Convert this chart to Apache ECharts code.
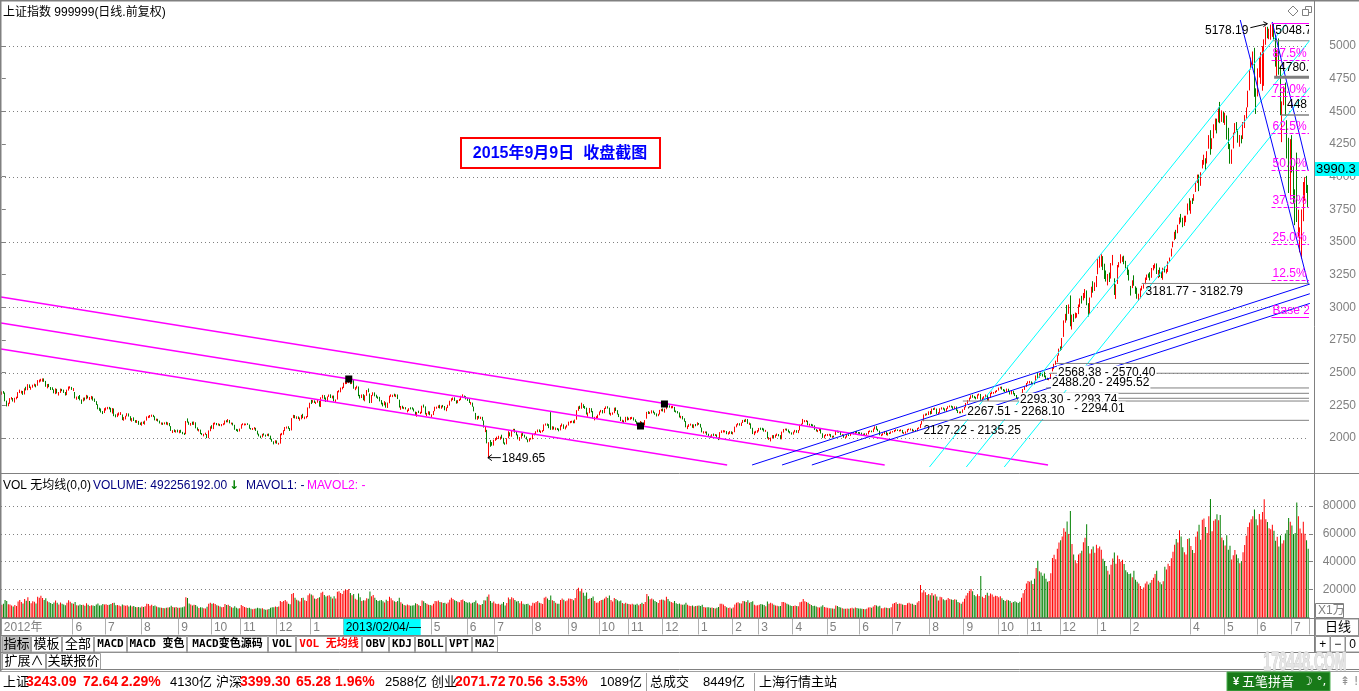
<!DOCTYPE html>
<html><head><meta charset="utf-8">
<script src="https://cdn.jsdelivr.net/npm/echarts@6/dist/echarts.min.js"></script>
<style>html,body{margin:0;padding:0;background:#fff;}#c{width:1359px;height:691px;}</style>
</head><body><div id="c"></div>
<script>
// ---- daily candles [open, close, low, high], 2012-03-26 .. 2015-07-15 ----
const ohlc2012 = [
[2344,2350,2331,2356],[2352,2348,2339,2359],[2345,2284,2281,2348],[2280,2253,2242,2286],[2249,2263,2243,2270],
[2268,2302,2262,2305],[2300,2306,2294,2313],[2301,2285,2279,2306],[2283,2306,2271,2308],[2302,2309,2296,2316],[2310,2350,2306,2351],[2352,2359,2344,2370],[2353,2357,2340,2362],[2355,2335,2330,2360],[2336,2378,2333,2380],[2380,2370,2364,2392],[2372,2406,2366,2412],[2402,2389,2383,2410],[2384,2388,2369,2393],[2390,2404,2385,2408],[2404,2406,2395,2416],[2404,2396,2388,2411],
[2402,2438,2400,2443],[2436,2440,2425,2447],[2438,2452,2432,2453],[2440,2451,2431,2456],[2450,2437,2430,2456],[2433,2394,2392,2437],[2388,2410,2380,2413],[2403,2394,2389,2414],[2382,2381,2367,2390],[2382,2374,2368,2388],[2368,2346,2342,2372],[2344,2378,2336,2380],[2374,2344,2341,2376],[2340,2348,2325,2352],[2350,2374,2345,2378],[2370,2367,2358,2376],[2365,2350,2345,2370],[2349,2333,2325,2352],[2330,2369,2328,2370],[2368,2390,2363,2394],[2386,2389,2378,2396],[2386,2373,2368,2391],
[2370,2373,2359,2382],[2350,2308,2303,2352],[2306,2308,2293,2317],[2312,2304,2299,2320],[2310,2293,2288,2329],[2292,2281,2261,2295],[2288,2305,2280,2309],[2302,2301,2287,2310],[2300,2327,2297,2330],[2321,2307,2303,2325],[2305,2306,2290,2314],[2308,2316,2296,2322],[2314,2292,2286,2318],[2292,2281,2276,2302],[2276,2260,2253,2282],[2254,2224,2220,2258],[2222,2216,2208,2232],[2218,2200,2195,2226],[2200,2195,2183,2206],[2194,2225,2191,2228],
[2223,2226,2210,2234],[2224,2234,2220,2238],[2232,2227,2219,2238],[2225,2201,2197,2231],[2199,2223,2187,2229],[2221,2170,2167,2226],[2169,2165,2158,2181],[2166,2184,2160,2188],[2180,2186,2172,2196],[2184,2185,2176,2198],[2177,2144,2137,2180],[2140,2156,2132,2160],[2150,2168,2142,2170],[2170,2182,2166,2190],[2182,2169,2164,2188],[2163,2137,2133,2167],[2134,2147,2125,2152],[2147,2134,2130,2158],[2131,2124,2117,2137],[2125,2133,2115,2137],[2128,2113,2101,2131],[2110,2103,2100,2118],
[2100,2122,2094,2124],[2120,2111,2108,2126],[2108,2132,2102,2133],[2135,2164,2133,2165],[2161,2163,2152,2170],[2162,2169,2155,2176],[2170,2174,2162,2179],[2172,2168,2160,2177],[2163,2139,2135,2166],[2137,2143,2131,2148],[2141,2131,2126,2147],[2129,2114,2111,2133],[2110,2115,2102,2119],[2114,2111,2100,2118],[2108,2114,2104,2120],[2115,2109,2102,2124],[2106,2116,2098,2120],[2113,2093,2090,2115],[2089,2056,2054,2091],[2054,2055,2038,2060],[2055,2048,2045,2066],[2046,2058,2041,2060],[2056,2047,2043,2064],
[2044,2059,2036,2060],[2060,2043,2040,2063],[2042,2037,2029,2047],[2036,2026,2023,2040],[2030,2128,2029,2130],[2133,2127,2118,2150],[2120,2104,2101,2125],[2101,2112,2094,2115],[2115,2109,2101,2125],[2107,2124,2100,2126],[2118,2076,2074,2120],[2074,2060,2057,2081],[2056,2065,2050,2069],[2060,2033,2030,2064],[2030,2026,2022,2038],[2022,2029,2013,2032],[2029,2030,2024,2041],[2027,2004,1999,2030],[2002,2056,1999,2058],[2058,2086,2052,2089],
[2092,2074,2071,2098],[2072,2115,2068,2116],[2113,2114,2103,2119],[2112,2104,2098,2115],[2101,2105,2095,2112],[2103,2101,2091,2108],[2097,2105,2090,2107],[2105,2106,2098,2113],[2108,2131,2103,2134],[2130,2128,2120,2136],[2124,2137,2120,2145],[2134,2116,2112,2138],[2112,2114,2104,2118],[2113,2100,2096,2117],[2097,2066,2063,2101],[2064,2059,2053,2070],[2059,2058,2047,2067],[2054,2069,2050,2072],
[2074,2104,2071,2105],[2102,2106,2098,2113],[2104,2107,2096,2111],[2105,2106,2098,2110],[2108,2105,2100,2113],[2101,2073,2071,2103],[2070,2069,2064,2077],[2066,2071,2061,2077],[2070,2078,2065,2083],[2075,2057,2054,2078],[2053,2030,2027,2056],[2028,2015,2012,2033],[2011,2010,1999,2018],[2008,2030,2005,2032],[2030,2024,2019,2036],[2021,2020,2010,2026],[2019,2030,2016,2032],[2031,2017,2013,2034],[2015,1991,1988,2018],[1990,1973,1971,1994],[1970,1960,1951,1975],[1961,1980,1959,1983],
[1978,1959,1956,1981],[1955,1960,1949,1963],[1958,2031,1957,2033],[2030,2032,2021,2039],[2030,2057,2025,2060],[2058,2082,2053,2084],[2080,2083,2072,2088],[2082,2074,2070,2090],[2072,2059,2054,2077],[2060,2150,2058,2152],[2155,2167,2152,2177],[2167,2162,2150,2175],[2159,2160,2146,2166],[2158,2153,2145,2165],[2152,2153,2132,2157],[2150,2175,2143,2177],[2176,2156,2152,2185],[2153,2159,2144,2164],[2158,2161,2150,2168],[2163,2233,2160,2234],[2232,2269,2227,2270]
];
const ohlc2013 = [
[2289,2276,2260,2292],[2278,2285,2270,2290],[2283,2276,2268,2288],[2271,2275,2260,2278],[2274,2284,2270,2294],[2281,2243,2240,2283],[2241,2311,2237,2312],[2313,2325,2302,2330],[2322,2309,2296,2328],[2303,2285,2276,2310],[2285,2317,2277,2318],[2320,2328,2315,2333],[2327,2315,2306,2334],[2312,2321,2303,2324],[2321,2283,2280,2325],[2281,2292,2276,2295],[2297,2358,2294,2359],[2357,2359,2349,2366],[2356,2382,2350,2386],[2382,2385,2372,2392],
[2387,2419,2383,2423],[2420,2428,2412,2434],[2423,2433,2413,2438],[2432,2434,2420,2445],[2430,2418,2412,2436],[2420,2432,2413,2434],[2444,2381,2377,2444],[2375,2382,2366,2389],[2384,2397,2378,2400],[2393,2326,2320,2394],[2322,2314,2302,2330],[2310,2326,2306,2333],[2328,2293,2289,2335],[2283,2325,2281,2327],[2326,2366,2323,2367],
[2368,2359,2350,2379],[2340,2273,2267,2341],[2271,2326,2268,2329],[2330,2347,2324,2350],[2345,2324,2319,2349],[2327,2318,2308,2331],[2314,2310,2300,2318],[2310,2286,2280,2315],[2282,2263,2257,2290],[2262,2256,2242,2270],[2257,2279,2250,2282],[2270,2241,2232,2273],[2240,2269,2230,2271],[2270,2323,2266,2324],[2320,2327,2315,2334],[2322,2328,2313,2331],[2330,2326,2318,2339],[2322,2327,2313,2334],[2325,2301,2298,2333],[2290,2236,2233,2293],[2233,2237,2216,2245],
[2239,2234,2225,2247],[2232,2234,2221,2238],[2230,2226,2219,2236],[2210,2212,2196,2217],[2212,2225,2206,2228],[2227,2226,2219,2235],[2228,2225,2218,2235],[2220,2206,2203,2226],[2198,2181,2176,2202],[2178,2197,2163,2199],[2200,2196,2191,2209],[2190,2194,2183,2201],[2193,2245,2190,2247],[2247,2243,2233,2256],[2241,2184,2180,2242],[2182,2187,2168,2192],[2188,2199,2180,2205],[2198,2177,2174,2203],
[2170,2175,2161,2181],[2177,2205,2175,2207],[2208,2236,2205,2239],[2233,2235,2224,2240],[2236,2247,2229,2250],[2245,2233,2226,2254],[2230,2246,2224,2248],[2246,2242,2234,2253],[2240,2217,2212,2245],[2216,2232,2205,2234],[2232,2251,2229,2254],[2250,2283,2248,2285],[2285,2299,2280,2304],[2298,2303,2290,2310],[2305,2288,2283,2311],[2283,2275,2263,2288],[2273,2288,2266,2290],[2289,2294,2283,2300],[2296,2321,2290,2323],[2323,2324,2310,2334],[2322,2315,2306,2325],[2313,2301,2295,2320],
[2300,2299,2284,2306],[2296,2272,2268,2298],[2268,2270,2255,2276],[2266,2243,2239,2271],[2238,2211,2204,2240],[2190,2149,2142,2192],[2147,2162,2139,2168],[2164,2156,2148,2170],[2155,2159,2145,2163],[2156,2144,2133,2162],[2130,2084,2080,2134],[2069,2073,2045,2084],[2059,1963,1959,2062],[1951,1959,1849.65,1968],[1957,1951,1933,1984],[1952,1950,1941,1969],[1951,1979,1942,1987],
[1983,1995,1978,2000],[1994,2007,1986,2010],[2003,2005,1992,2017],[2001,2006,1987,2010],[2009,2007,1998,2025],[2000,1959,1957,2001],[1960,1958,1948,1966],[1955,1996,1952,1998],[2001,2039,1998,2052],[2036,2017,2013,2043],[2015,2059,2010,2061],[2058,2065,2052,2070],[2063,2044,2040,2070],[2043,2023,2020,2050],[2022,1992,1990,2027],[1990,2004,1978,2007],[2004,2034,2001,2036],[2032,2019,2016,2038],[2018,2007,2003,2025],[2005,1991,1988,2011],[1986,1977,1967,1990],[1977,1991,1972,1996],[1990,1994,1987,2001],
[1993,2029,1990,2032],[2026,2029,2020,2036],[2029,2050,2023,2052],[2050,2060,2044,2065],[2058,2048,2045,2066],[2046,2052,2038,2057],[2050,2052,2044,2060],[2055,2102,2053,2104],[2101,2106,2095,2111],[2104,2101,2093,2111],[2099,2082,2075,2106],[2083,2069,2062,2198],[2066,2086,2063,2090],[2084,2073,2065,2088],[2071,2072,2060,2080],[2072,2067,2061,2077],[2065,2057,2051,2072],[2060,2096,2058,2098],[2097,2103,2088,2111],[2101,2075,2070,2104],[2074,2085,2066,2089],[2085,2098,2080,2101],
[2100,2123,2095,2125],[2122,2123,2113,2130],[2124,2127,2117,2132],[2125,2122,2113,2133],[2120,2139,2113,2141],[2141,2212,2140,2213],[2213,2237,2208,2242],[2235,2229,2222,2247],[2228,2255,2224,2270],[2251,2236,2230,2258],[2238,2231,2223,2245],[2228,2185,2180,2232],[2183,2192,2163,2195],[2195,2221,2190,2230],[2220,2207,2197,2228],[2203,2155,2151,2206],[2154,2155,2135,2162],[2152,2160,2147,2167],[2159,2175,2153,2179],
[2177,2199,2174,2203],[2200,2211,2196,2215],[2210,2193,2188,2214],[2192,2228,2190,2230],[2228,2238,2222,2242],[2236,2233,2225,2243],[2230,2183,2180,2232],[2182,2188,2171,2193],[2187,2193,2178,2196],[2195,2229,2190,2232],[2228,2211,2206,2234],[2209,2183,2180,2213],[2181,2164,2160,2185],[2160,2133,2130,2163],[2130,2133,2122,2140],[2132,2128,2115,2135],[2128,2160,2122,2162],[2158,2141,2135,2163],
[2143,2149,2137,2155],[2148,2150,2140,2160],[2150,2157,2145,2162],[2155,2140,2134,2158],[2138,2129,2122,2143],[2125,2106,2100,2128],[2105,2109,2096,2113],[2108,2126,2103,2130],[2120,2087,2083,2124],[2085,2100,2078,2104],[2100,2135,2096,2137],[2150,2197,2148,2200],[2195,2193,2184,2205],[2192,2194,2184,2200],[2195,2206,2188,2212],[2204,2196,2190,2210],[2193,2184,2178,2197],[2182,2174,2165,2188],[2175,2181,2167,2185],[2182,2212,2180,2215],[2210,2220,2205,2223],
[2222,2207,2203,2226],[2205,2222,2194,2224],[2224,2251,2220,2260],[2250,2245,2236,2258],[2244,2238,2232,2250],[2237,2238,2227,2244],[2237,2238,2228,2246],[2236,2204,2200,2238],[2203,2202,2195,2210],[2200,2196,2188,2206],[2193,2160,2157,2196],[2158,2162,2150,2170],[2163,2148,2142,2168],[2146,2128,2125,2151],[2126,2085,2082,2130],[2083,2090,2068,2095],[2091,2102,2085,2106],[2102,2104,2095,2110],[2102,2082,2078,2105],[2081,2102,2075,2104],[2100,2098,2090,2107],[2099,2116,2095,2120]
];
const ohlc2014 = [
[2112,2109,2101,2115],[2106,2084,2080,2108],[2078,2047,2043,2080],[2045,2046,2034,2052],[2044,2045,2036,2050],[2044,2028,2024,2050],[2027,2013,2008,2033],[2011,2010,2001,2018],[2006,2027,2003,2029],[2026,2023,2016,2034],[2022,2024,2015,2030],[2024,2004,2001,2027],[2000,1991,1984,2004],[1992,2043,1990,2045],[2043,2052,2038,2058],[2050,2051,2042,2060],[2050,2055,2043,2058],[2050,2033,2029,2053],[2031,2038,2026,2044],[2037,2049,2032,2053],[2048,2033,2030,2051],
[2032,2044,2027,2047],[2046,2086,2044,2087],[2086,2103,2082,2105],[2101,2110,2097,2114],[2108,2100,2095,2113],[2099,2116,2092,2118],[2118,2136,2115,2138],[2133,2130,2122,2140],[2128,2143,2123,2146],[2142,2112,2108,2145],[2110,2114,2100,2118],[2108,2076,2071,2112],[2073,2035,2030,2078],[2033,2047,2022,2050],[2045,2047,2036,2055],[2046,2056,2040,2060],
[2055,2075,2050,2077],[2073,2072,2062,2079],[2073,2071,2060,2078],[2070,2053,2049,2073],[2052,2058,2047,2062],[2045,1999,1996,2048],[1998,2001,1986,2006],[1995,1998,1974,2003],[2000,2019,1996,2022],[2016,2004,2000,2022],[2006,2024,2002,2026],[2023,2025,2016,2034],[2024,2021,2013,2030],[2018,1993,1990,2022],[1993,2047,1990,2049],[2046,2066,2042,2069],[2065,2067,2059,2072],[2066,2063,2055,2072],[2061,2046,2043,2065],[2045,2042,2035,2052],[2040,2033,2026,2043],
[2032,2047,2026,2049],[2046,2059,2043,2062],[2057,2044,2040,2060],[2042,2059,2037,2061],[2060,2100,2058,2102],[2098,2105,2093,2110],[2106,2134,2104,2146],[2128,2131,2121,2137],[2130,2131,2122,2137],[2128,2101,2097,2132],[2100,2106,2094,2109],[2105,2099,2092,2108],[2099,2097,2088,2104],[2094,2066,2062,2097],[2064,2054,2050,2068],[2053,2059,2045,2062],[2060,2071,2054,2073],[2070,2037,2034,2073],[2033,2004,2001,2036],[2002,2020,1998,2022],[2019,2026,2014,2030],
[2024,2027,2015,2031],[2026,2028,2018,2032],[2027,2010,2006,2030],[2008,2015,2001,2017],[2014,2011,2004,2018],[2025,2052,2022,2054],[2052,2050,2042,2056],[2050,2047,2041,2054],[2045,2025,2022,2048],[2024,2026,2017,2030],[2025,2005,2002,2027],[2004,2008,1997,2011],[2008,2024,2004,2026],[2023,2021,2015,2028],[2020,2035,2016,2036],[2036,2041,2030,2044],[2040,2034,2028,2045],[2033,2051,2030,2053],[2050,2040,2036,2054],[2041,2039,2032,2046],
[2040,2038,2031,2045],[2038,2024,2020,2041],[2024,2030,2018,2033],[2031,2029,2022,2036],[2028,2033,2021,2036],[2032,2052,2028,2054],[2052,2054,2045,2058],[2053,2050,2044,2057],[2048,2070,2045,2072],[2070,2087,2066,2089],[2086,2066,2063,2091],[2065,2055,2051,2070],[2053,2024,2021,2056],[2022,2026,2014,2029],[2026,2034,2020,2037],[2034,2050,2030,2052],[2049,2025,2022,2052],[2024,2037,2018,2039],[2037,2036,2030,2042],[2036,2048,2033,2050],
[2048,2050,2042,2053],[2050,2059,2045,2061],[2058,2064,2052,2067],[2063,2059,2054,2066],[2058,2060,2050,2062],[2058,2060,2052,2066],[2058,2040,2036,2062],[2038,2039,2031,2045],[2038,2046,2033,2050],[2047,2066,2044,2068],[2066,2068,2060,2072],[2065,2067,2058,2073],[2066,2055,2050,2070],[2054,2059,2048,2062],[2058,2054,2049,2062],[2054,2075,2052,2077],[2075,2078,2070,2082],[2078,2106,2076,2108],[2106,2126,2103,2130],[2130,2178,2128,2180],[2178,2183,2170,2187],[2183,2182,2174,2188],[2183,2202,2176,2204],
[2200,2185,2180,2207],[2186,2223,2184,2225],[2224,2223,2214,2228],[2222,2224,2216,2233],[2222,2188,2184,2225],[2186,2194,2180,2198],[2195,2225,2192,2227],[2226,2229,2218,2235],[2228,2223,2217,2233],[2220,2207,2203,2226],[2206,2226,2201,2228],[2227,2240,2223,2243],[2240,2245,2235,2249],[2244,2240,2233,2248],[2238,2229,2222,2243],[2227,2240,2222,2242],[2238,2211,2208,2241],[2210,2195,2191,2216],[2194,2197,2188,2202],[2196,2195,2189,2203],[2196,2217,2193,2219],
[2218,2236,2215,2237],[2237,2266,2234,2268],[2267,2288,2262,2290],[2287,2306,2282,2309],[2306,2326,2300,2327],[2327,2319,2308,2331],[2317,2312,2304,2322],[2310,2305,2296,2315],[2303,2331,2300,2334],[2332,2334,2325,2340],[2332,2296,2292,2337],[2295,2307,2284,2310],[2308,2316,2300,2320],[2318,2329,2310,2333],[2326,2290,2286,2330],[2288,2309,2285,2311],[2310,2344,2308,2346],[2343,2345,2336,2355],[2345,2347,2338,2352],[2348,2358,2343,2361],[2358,2364,2352,2367],
[2366,2382,2363,2386],[2383,2389,2378,2392],[2387,2375,2370,2393],[2372,2366,2358,2375],[2365,2359,2352,2370],[2358,2374,2352,2378],[2372,2357,2352,2377],[2355,2341,2333,2360],[2340,2357,2334,2360],[2357,2339,2334,2361],[2338,2326,2321,2344],[2325,2302,2298,2329],[2304,2302,2294,2310],[2300,2290,2282,2304],[2290,2337,2288,2339],[2338,2373,2335,2375],[2373,2391,2368,2394],[2392,2420,2390,2421],
[2423,2430,2416,2434],[2428,2430,2418,2437],[2430,2420,2412,2433],[2419,2420,2405,2424],[2422,2418,2410,2431],[2440,2474,2436,2478],[2483,2469,2455,2499],[2465,2494,2461,2496],[2492,2485,2476,2500],[2483,2478,2470,2492],[2490,2474,2465,2508],[2470,2457,2450,2478],[2456,2451,2444,2461],[2450,2452,2442,2458],[2455,2487,2452,2490],[2523,2532,2510,2536],[2530,2567,2527,2568],[2568,2580,2560,2592],[2584,2630,2580,2633],[2635,2683,2630,2684],
[2695,2680,2666,2701],[2678,2763,2675,2765],[2777,2899,2774,2900],[2910,2937,2882,2950],[2955,2938,2900,3018],[2960,3020,2950,3022],[3020,2856,2855,3091],[2830,2940,2830,2944],[2930,2926,2888,2950],[2925,2938,2915,2960],[2936,2953,2921,2956],[2952,3021,2948,3022],[3024,3061,3002,3068],[3064,3058,3029,3088],[3056,3108,3053,3110],[3120,3128,3070,3140],[3115,3032,3016,3129],[3004,2968,2930,3032],[2965,3072,2950,3075],[3077,3157,3075,3158],[3170,3168,3112,3200],[3163,3166,3125,3191],[3172,3235,3155,3240]
];
const ohlc2015 = [
[3258,3351,3253,3369],[3331,3352,3303,3394],[3336,3373,3311,3406],[3371,3294,3285,3392],[3294,3285,3217,3334],[3258,3229,3197,3282],[3223,3235,3168,3255],[3245,3222,3194,3266],[3222,3336,3220,3339],[3343,3376,3321,3401],[3186,3116,3095,3222],[3076,3173,3064,3175],[3179,3323,3179,3324],[3327,3343,3306,3346],[3349,3351,3337,3406],[3360,3383,3348,3389],[3389,3352,3330,3395],[3342,3305,3298,3356],[3299,3262,3247,3320],[3254,3210,3205,3288],
[3141,3128,3090,3164],[3156,3204,3147,3207],[3227,3175,3165,3245],[3143,3136,3103,3161],[3138,3076,3066,3150],[3067,3095,3049,3104],[3095,3142,3069,3145],[3138,3157,3129,3165],[3154,3173,3143,3177],[3178,3203,3177,3228],[3210,3247,3209,3251],[3247,3246,3227,3259],[3260,3229,3206,3269],[3226,3298,3226,3301],[3302,3310,3283,3324],
[3333,3336,3298,3336],[3324,3263,3255,3336],[3262,3280,3224,3286],[3285,3248,3232,3305],[3251,3241,3224,3272],[3228,3302,3211,3303],[3301,3286,3267,3311],[3276,3290,3259,3294],[3295,3349,3271,3352],[3348,3372,3347,3381],[3391,3449,3389,3450],[3459,3503,3459,3504],[3515,3578,3514,3578],[3586,3582,3524,3593],[3589,3617,3567,3632],[3641,3688,3636,3688],[3695,3691,3650,3715],[3680,3661,3613,3686],[3644,3682,3623,3701],[3680,3691,3651,3701],[3710,3786,3710,3795],[3793,3748,3741,3835],
[3748,3810,3716,3817],[3828,3825,3791,3835],[3829,3863,3815,3866],[3899,3961,3883,3961],[3966,3995,3951,4016],[4001,3957,3889,4016],[3949,4034,3930,4034],[4064,4121,4063,4128],[4124,4135,4091,4168],[4135,4084,4050,4141],[4102,4194,4101,4195],[4215,4287,4214,4318],[4307,4217,4168,4356],[4211,4293,4211,4294],[4304,4398,4294,4401],[4407,4414,4355,4445],[4410,4394,4331,4444],[4431,4527,4416,4529],[4539,4476,4409,4572],[4466,4476,4419,4507],[4483,4442,4412,4499],
[4441,4480,4396,4489],[4467,4298,4284,4468],[4318,4229,4211,4374],[4225,4112,4099,4250],[4119,4206,4098,4208],[4231,4333,4216,4337],[4345,4401,4333,4410],[4403,4375,4353,4418],[4358,4283,4260,4364],[4271,4308,4229,4319],[4294,4284,4255,4316],[4293,4417,4288,4418],[4420,4446,4372,4471],[4446,4529,4444,4530],[4531,4658,4531,4658],[4677,4813,4660,4814],[4822,4910,4820,4911],[4926,4941,4850,4958],[4943,4620,4611,4986],[4633,4612,4480,4676],
[4633,4828,4614,4829],[4844,4910,4759,4911],[4905,4910,4710,4952],[4920,4947,4658,4999],[4935,5023,4695,5051],[5046,5131,5009,5147],[5146,5113,5059,5147],[5102,5106,5052,5132],[5096,5121,5048,5164],[5147,5166,5070,5178.19],[5175,5062,5048,5176],[5042,4887,4842,5082],[4893,4967,4767,4968],[5004,4786,4780,5058],[4808,4478,4470,4849],[4471,4576,4264,4576],[4604,4691,4547,4691],[4690,4527,4467,4720],[4399,4192,4139,4432],[4289,4053,3875,4297],[4006,4277,3847,4287],
[4214,4053,4032,4318],[4058,3912,3795,4080],[3793,3686,3629,3903],[4132,3775,3653,4184],[3726,3727,3541,3747],[3433,3507,3421,3612],[3432,3709,3373,3749],[3707,3877,3659,3959],[3827,3970,3816,3996],[3933,3924,3875,4006],[3910,3805,3765,3937]
];
// ---- daily volume (x1万) ----
const vol2012 = [9200,9800,12500,11800,9500,
9300,8600,7800,8900,8200,11500,12600,11200,10100,13200,12000,14500,11800,10200,11600,11300,10100,
14800,14200,15600,13900,12500,13800,11600,10900,10400,9600,10800,12100,10500,9300,10800,9900,9400,8800,10600,12400,11300,10200,
9900,11200,8800,8600,9300,8900,9100,8400,10200,9200,8300,8800,8600,8200,9300,10100,8600,8800,9700,9400,
9500,8900,9100,9600,10400,10600,8800,8900,8600,8100,9300,8700,8400,8800,7900,8600,7800,8200,7600,7300,7600,7200,
7800,7500,8100,9800,9600,8500,9100,8300,8600,7900,7400,7200,6900,6800,6700,6900,7100,7300,8400,7600,7200,7600,7000,
6900,7200,7400,7800,14600,13900,10100,9400,8600,9200,9000,7800,6800,7400,7100,6600,6400,7700,9900,10500,
9800,10200,9600,8800,8500,7900,7300,7600,9600,8900,9200,8200,7400,7000,8100,6900,6500,6600,
8900,8200,7500,7200,6800,6900,6300,6000,6200,6400,6900,6700,6400,6600,5900,5600,5800,6100,7000,7300,7400,7800,
7500,7900,11800,11200,11900,12600,11400,9800,9500,16800,17600,14200,12800,12200,11500,13900,14100,12400,11800,15900,17200];
const vol2013 = [16500,15800,13600,13200,13900,14500,17800,18400,16200,15100,15600,15900,14800,13700,15200,13600,18400,18900,17500,16800,
19200,20100,19800,20500,17600,15900,16800,13500,12800,17200,14600,11900,12400,12100,13800,
13500,18600,15200,16100,14200,12600,11800,12200,12600,11600,10800,12800,11900,14900,13800,12400,11600,11200,11800,14100,10900,
9800,8900,8600,9400,8800,8400,8600,8800,10200,9600,8700,8300,12200,11600,10400,9800,9100,8900,
8600,9800,11900,11600,12200,11200,10900,10400,10600,9900,10800,12800,14100,13200,12400,11900,11300,11000,12600,12900,11800,11200,
10500,10900,10100,10600,11200,12100,10200,9300,9000,9600,12400,12200,14800,16500,11900,10600,11400,
10100,9600,9800,9200,9900,11200,8600,10400,14300,13100,14500,13800,12600,11400,11900,10300,11600,9900,9300,9600,9900,8800,8500,
10600,10300,11200,11800,10600,10200,9600,14200,14900,13600,12600,15800,12400,11900,10600,9900,9800,12500,13600,12800,11600,12200,
13600,13400,13200,12400,13900,20100,21400,18900,20600,17800,15600,17900,13200,13600,13900,15100,11900,10600,10800,
11900,12600,12800,13600,14900,13900,15800,12600,11400,13900,13300,12400,11600,12100,10400,9900,10600,9800,
9600,9400,9900,9300,9200,9800,8700,9600,10600,9600,11200,16800,15200,13100,13600,12900,11800,11200,10400,12600,12900,
12800,12100,14800,13200,11600,11200,10600,11900,10200,9600,10100,9300,9200,9400,10600,9100,8400,8300,8600,7900,8200,8400];
const vol2014 = [8600,8200,9100,7600,7200,7400,7300,6900,7200,6800,6500,6900,7500,9800,9900,9400,8200,7400,6800,7100,6500,
7100,9400,10600,10900,10200,10100,11900,11600,11200,12400,10600,11100,11600,9200,8600,8700,
9200,9600,9400,8900,8100,11400,9900,10600,10100,9200,8600,8500,8100,8300,11200,11200,10600,9800,9300,8600,8200,
8300,8600,8200,8100,10900,11300,13200,11600,11200,10600,9600,8900,8200,8400,7900,7400,7100,7900,8800,7600,7200,
6900,6700,6600,6500,6200,8600,8200,7600,7100,6600,6300,6200,6400,6200,6600,6900,6500,7100,6800,6500,
6400,6200,6100,5900,6200,7100,7400,7000,7900,8900,8600,7900,8400,6700,6600,7200,6900,6800,6700,7300,
9800,10400,10900,9600,10100,9800,9400,9000,8900,10300,10600,9900,9800,9200,8900,10800,11900,23300,17900,19600,18100,16200,16800,
15900,17600,15800,16600,15100,12200,14900,14600,13100,12400,12800,13900,13200,12900,12600,13000,12800,11100,10600,9900,11300,
13500,15800,17600,19200,20400,18800,16100,15200,16600,15400,29800,14900,13900,16100,17800,15600,17200,16400,14800,15600,15400,
14600,15200,13800,12600,11900,12800,12400,11800,10600,11200,11600,10900,10400,11300,14100,17400,19800,24300,
26100,25600,26600,24100,27800,35400,40600,33100,32300,29900,31600,27700,25600,26200,31800,42600,44900,41700,49200,53800,
55300,58100,63900,61500,68900,59800,76400,52600,45200,41100,38900,45200,46100,47800,53900,57100,66800,51200,45800,48900,50900,46500,52200];
const vol2015 = [49700,50900,48500,42200,40500,36900,33500,30800,37800,42300,46600,38500,44500,41900,40000,41400,38300,33800,32500,31200,
31500,28800,33500,27100,25600,24400,22500,20300,21500,24300,25800,23600,24900,26900,28500,
31200,33600,26400,25300,23900,25900,36300,34400,38500,37000,42500,47100,52200,56300,53800,62600,58100,50400,46700,45200,56200,56800,
51200,48400,46300,57900,61600,66400,55700,70100,70900,64800,60500,72500,85000,61800,69300,70500,74000,69800,73500,57300,55400,
51600,58900,48600,51500,41600,44600,48300,45100,42400,38800,40300,46800,52000,58600,64800,68100,70500,72600,77400,70400,
66100,74200,70300,75600,84700,70400,68400,64000,63300,66400,62100,55100,57900,50900,58800,53100,55300,60300,62800,71400,68600,
65900,59900,60600,82400,72600,63800,60400,68700,60100,55400,49226];

// ---- month labels of the date axis: [candle index, text] ----
const monthTicks = [[0,'2012年'],[44,'6'],[64,'7'],[86,'8'],[109,'9'],[129,'10'],[147,'11'],[169,'12'],
[190,'1'],[210,'2'],[225,'3'],[246,'4'],[264,'5'],[286,'6'],[303,'7'],[326,'8'],[348,'9'],[367,'10'],[385,'11'],[406,'12'],
[428,'1'],[449,'2'],[465,'3'],[486,'4'],[507,'5'],[527,'6'],[547,'7'],[570,'8'],[591,'9'],[612,'10'],[630,'11'],[650,'12'],
[673,'1'],[693,'2'],[730,'4'],[751,'5'],[771,'6'],[792,'7']];
const cursorIndex = 211;            // 2013/02/04
const cursorLabel = '2013/02/04/—';
const cursorPrice = 3990.3;
const priceGridLevels = [2000,2500,3000,3500,4000,4500,5000];
const volGridLevels = [20000,40000,60000,80000];

// ---- drawn study lines, [idx1, price1, idx2, price2] ----
const magentaLines = [[-0.5,3079,642.3,1793.4],[-0.5,2880,542.0,1793.4],[-0.5,2681,445.3,1793.4]];
const blueUpLines = [[460.6,1793.4,803,3178],[479.0,1793.4,803,3104],[497.3,1793.4,803,3030]];
const cyanLines = [[569.5,1778,789.0,5176],[592.1,1778,803,5043],[615.4,1778,803,4682]];
const blueDownLines = [[760.3,5199,801.9,3186],[779.9,5184,801.9,4051]];
const pivotSquares = [[213,2451],[406.8,2260],[392.1,2092]];
// golden-section box
const fibHigh = 5178.19, fibBase = 2925, fibStart = 779.5;
const fibPcts = [0,12.5,25,37.5,50,62.5,75,87.5,100];
// gap lines [start idx, price, width] and gap texts [idx, price, text, opaque]
const gapLines = [[780.5,5040,1],[781.1,4760,3],[785.4,4472,1.5],[699.8,3182.79,1],[647.2,2570.40,1],[643.5,2495.52,1],
[641.1,2383,1],[625,2342,1],[625,2304,1],[590,2283,1],[564.6,2135.25,1]];
const gapTexts = [[781.8,5114.8,'5048.7',0],[784.1,4831.6,'4780.',0],[789.0,4548.4,'448',0],[702.2,3117.3,'3181.77 - 3182.79',0],
[647.8,2501.3,'2568.38 - 2570.40',1],[644.1,2420.9,'2488.20 - 2495.52',1],[624.5,2290.8,'2293.30 - 2293.74',1],
[657.6,2225.8,'- 2294.01',1],[592.1,2199.0,'2267.51 - 2268.10',1],[565.8,2057.4,'2127.22 - 2135.25',0]];

// ---------------- build ----------------
const UP = '#ff0000', DOWN = '#008000';
const F = '"Liberation Sans","Noto Sans CJK SC",sans-serif';
const ohlc = [].concat(ohlc2012, ohlc2013, ohlc2014, ohlc2015);
const vols = [].concat(vol2012, vol2013, vol2014, vol2015);
const N = ohlc.length;
const cats = ohlc.map((_, i) => String(i));
const tickMap = {}; monthTicks.forEach(t => tickMap[t[0]] = t[1]);
const isTick = (i) => tickMap[i] !== undefined;

const chart = echarts.init(document.getElementById('c'), null, {renderer: 'canvas'});

function custom(items, render, z) {
  return {type: 'custom', xAxisIndex: 2, yAxisIndex: 0, clip: true, silent: true, z: z || 4,
    data: items.map(d => [d[0], d[1]]), encode: {x: 0, y: 1},
    renderItem: (params, api) => render(items[params.dataIndex], api)};
}
function txt(x, y, t, font, fill, align, va, bg) {
  const s = {text: t, font: font, fill: fill, align: align || 'left', verticalAlign: va || 'middle',
    textAlign: align || 'left', textVerticalAlign: va || 'middle'};
  if (bg) { s.backgroundColor = bg; s.padding = [1, 1]; }
  return {type: 'text', x: x, y: y, style: s};
}
function lineSeries(arr, color, width) {
  return arr.map(a => ({type: 'line', xAxisIndex: 2, yAxisIndex: 0, data: [[a[0], a[1]], [a[2], a[3]]],
    symbol: 'none', showSymbol: false, silent: true, clip: true, z: 3,
    lineStyle: {color: color, width: width}}));
}

// extremes from data
let hiI = 0, loI = 0;
ohlc.forEach((d, i) => { if (d[3] > ohlc[hiI][3]) hiI = i; if (d[2] < ohlc[loI][2]) loI = i; });
const extremes = [[hiI, ohlc[hiI][3], 'hi'], [loI, ohlc[loI][2], 'lo']];

const fibItems = fibPcts.map(p => [fibStart, fibBase + (fibHigh - fibBase) * p / 100, p]);

const volData = vols.map((v, i) => ({value: v, itemStyle: {color: ohlc[i][1] >= ohlc[i][0] ? UP : DOWN}}));

const option = {
  animation: false,
  backgroundColor: '#ffffff',
  grid: [
    {left: 1, top: 13.3333, width: 1313, height: 457.3333},
    {left: 1, top: 478, width: 1313, height: 139.5}
  ],
  xAxis: [
    {type: 'category', gridIndex: 0, data: cats, boundaryGap: true, show: false},
    {type: 'category', gridIndex: 1, data: cats, boundaryGap: true,
      axisLine: {show: true, lineStyle: {color: '#808080'}},
      axisTick: {show: true, interval: (i) => isTick(i), length: 17, lineStyle: {color: '#b0b0b0'}},
      axisLabel: {interval: (i) => isTick(i), formatter: (v, i) => tickMap[i] || '', color: '#808080',
        fontSize: 12, fontFamily: F, align: 'left', margin: 4, padding: [0, 0, 0, 2]},
      splitLine: {show: false}},
    {type: 'value', gridIndex: 0, min: -0.5, max: N - 0.5, show: false}
  ],
  yAxis: [
    {type: 'value', gridIndex: 0, position: 'right', min: 1750, max: 5250, interval: 250, scale: true,
      axisLine: {show: false}, splitLine: {show: false},
      axisTick: {show: true, length: 4, lineStyle: {color: '#808080'}},
      axisLabel: {color: '#808080', fontSize: 12, fontFamily: F, align: 'right', margin: 47,
        formatter: (v) => String(Math.round(v)), showMinLabel: false, showMaxLabel: false}},
    {type: 'value', gridIndex: 1, position: 'right', min: 0, max: 100000, interval: 20000,
      axisLine: {show: false}, splitLine: {show: false},
      axisTick: {show: true, length: 4, lineStyle: {color: '#808080'}},
      axisLabel: {color: '#808080', fontSize: 12, fontFamily: F, align: 'right', margin: 47,
        formatter: (v) => String(Math.round(v)), showMinLabel: false, showMaxLabel: false}}
  ],
  series: [
    custom(priceGridLevels.map(v => [-0.5, v]), (d, api) => {
      const a = api.coord([-0.5, d[1]]), b = api.coord([N - 0.5, d[1]]);
      return {type: 'line', shape: {x1: a[0], y1: Math.round(a[1]) + 0.5, x2: b[0], y2: Math.round(a[1]) + 0.5},
        style: {stroke: '#808080', lineWidth: 1, lineDash: [1, 3]}};
    }, 1),
    {type: 'candlestick', xAxisIndex: 0, yAxisIndex: 0, data: ohlc, large: false, barWidth: 0.5, z: 2,
      silent: true, itemStyle: {color: UP, color0: DOWN, borderColor: UP, borderColor0: DOWN, borderWidth: 1}},
    {type: 'bar', xAxisIndex: 1, yAxisIndex: 1, data: volData, barWidth: 1, silent: true, z: 2,
      markLine: {silent: true, symbol: ['none', 'none'], label: {show: false}, z: 1,
        lineStyle: {color: '#808080', type: [1, 3], width: 1},
        data: volGridLevels.map(v => ({yAxis: v}))}},
    ...lineSeries(magentaLines, '#ff00ff', 1.3),
    ...lineSeries(blueUpLines, '#0000ff', 1),
    ...lineSeries(cyanLines, '#00ffff', 1),
    ...lineSeries(blueDownLines, '#0000ff', 1),
    // golden section box
    custom(fibItems, (d, api) => {
      const a = api.coord([d[0], d[1]]), b = api.coord([N + 2, d[1]]);
      const y = Math.round(a[1]) + 0.5;
      const solid = d[2] === 0 || d[2] === 100;
      const ch = [{type: 'line', shape: {x1: a[0], y1: y, x2: b[0], y2: y},
        style: {stroke: '#ff00ff', lineWidth: 1, lineDash: solid ? null : [4, 2]}}];
      if (d[2] !== 100) {
        const lab = (d[2] === 0 ? 'Base' : d[2].toFixed(1) + '%') + ' ' + d[1].toFixed(2);
        ch.push(txt(a[0] + 1, y - 1, lab, '12px ' + F, '#ff00ff', 'left', 'bottom'));
      }
      return {type: 'group', children: ch};
    }, 5),
    // gap lines
    custom(gapLines, (d, api) => {
      const a = api.coord([d[0], d[1]]), b = api.coord([N + 2, d[1]]);
      return {type: 'line', shape: {x1: a[0], y1: a[1], x2: b[0], y2: a[1]}, style: {stroke: '#808080', lineWidth: d[2]}};
    }, 5),
    custom(gapTexts, (d, api) => {
      const a = api.coord([d[0], d[1]]);
      return txt(a[0], a[1], d[2], '12px ' + F, '#000', 'left', 'middle', d[3] ? '#ffffff' : null);
    }, 6),
    // pivot squares
    custom(pivotSquares, (d, api) => {
      const a = api.coord([d[0], d[1]]);
      return {type: 'rect', shape: {x: a[0] - 3.5, y: a[1] - 3.5, width: 7, height: 7}, style: {fill: '#000'}};
    }, 6),
    // high / low labels
    custom(extremes, (d, api) => {
      const a = api.coord([d[0], d[1]]);
      const lab = d[1].toFixed(2);
      if (d[2] === 'hi') {
        return {type: 'group', children: [
          {type: 'polyline', shape: {points: [[a[0] - 22, a[1] + 5], [a[0] - 5, a[1] + 1]]}, style: {stroke: '#000', lineWidth: 1, fill: null}},
          {type: 'polyline', shape: {points: [[a[0] - 9, a[1] - 1], [a[0] - 5, a[1] + 1], [a[0] - 9, a[1] + 4]]}, style: {stroke: '#000', lineWidth: 1, fill: null}},
          txt(a[0] - 24, a[1] + 7.5, lab, '12px ' + F, '#000', 'right', 'middle')]};
      }
      return {type: 'group', children: [
        {type: 'polyline', shape: {points: [[a[0] - 1, a[1]], [a[0] + 12, a[1]]]}, style: {stroke: '#000', lineWidth: 1, fill: null}},
        {type: 'polyline', shape: {points: [[a[0] + 3, a[1] - 3], [a[0] - 1, a[1]], [a[0] + 3, a[1] + 3]]}, style: {stroke: '#000', lineWidth: 1, fill: null}},
        txt(a[0] + 13, a[1] + 1.5, lab, '12px ' + F, '#000', 'left', 'middle')]};
    }, 6)
  ]
};
chart.setOption(option);

// ---------------- interface chrome ----------------
const G = [];
const add = (e) => { e.silent = true; e.z = 100; G.push(e); };
function rect(x, y, w, h, fill, stroke, lw) { add({type: 'rect', shape: {x, y, width: w, height: h}, style: {fill: fill || 'none', stroke: stroke || null, lineWidth: lw || 1}}); }
function ln(x1, y1, x2, y2, c, lw) { add({type: 'line', shape: {x1, y1, x2, y2}, style: {stroke: c || '#808080', lineWidth: lw || 1}}); }
function tx(x, y, t, font, fill, align, extra) { const e = txt(x, y, t, font, fill, align || 'left', 'middle'); if (extra) Object.assign(e, extra); add(e); }

// frame
rect(0, 0, 1359, 1.5, '#808080');
rect(0, 0, 1.5, 672, '#808080');
ln(1314.5, 0, 1314.5, 652.5);
ln(0, 473.5, 1359, 473.5);
ln(0, 618.5, 1359, 618.5);
ln(0, 635.5, 1359, 635.5);
ln(0, 652.5, 1359, 652.5);
ln(0, 669.5, 1359, 669.5);
ln(0, 671.5, 1359, 671.5, '#a0a0a0');

// title & icons
tx(3, 12.5, '上证指数 999999(日线.前复权)', '12px ' + F, '#000');
add({type: 'polygon', shape: {points: [[1293, 6], [1298, 11], [1293, 16], [1288, 11]]}, style: {fill: '#fff', stroke: '#808080', lineWidth: 1}});
rect(1305.5, 6.5, 6, 6, '#fff', '#808080');
rect(1302.5, 9.5, 6, 6, '#fff', '#808080');

// red note box
rect(461, 138, 199, 30, 'none', '#ff0000', 2);
tx(560, 153.5, '2015年9月9日  收盘截图', 'bold 16px ' + F, '#0000ff', 'center');

// volume title
tx(3, 485.5, 'VOL 无均线(0,0)', '12px ' + F, '#000');
tx(93, 485.5, 'VOLUME: 492256192.00', '12px ' + F, '#000080');
tx(229, 485.5, '↓', 'bold 12px "DejaVu Sans"', '#008000');
tx(246, 485.5, 'MAVOL1: -', '12px ' + F, '#000080');
tx(307, 485.5, 'MAVOL2: -', '12px ' + F, '#ff00ff');
rect(1315.5, 603.5, 28, 14, '#fff', '#808080');
tx(1318, 611, 'X1万', '12px ' + F, '#808080');

// cursor labels (positions from the axes)
const cx = chart.convertToPixel({xAxisIndex: 2}, cursorIndex) - 1313 / N / 2;
rect(cx - 1, 619, 77, 16, '#00ffff');
tx(cx + 1, 627.5, cursorLabel, '12px ' + F, '#000');
const cy = chart.convertToPixel({yAxisIndex: 0}, cursorPrice);
rect(1315, cy - 16, 44, 14, '#00ffff');
tx(1316, cy - 8.5, String(cursorPrice), '13px ' + F, '#000');

// right corner
rect(1315.5, 619, 43, 16.5, '#fff', '#909090');
tx(1338, 627.5, '日线', '13px ' + F, '#000', 'center');
[[1315.5, '+'], [1330.5, '−'], [1345.5, '0']].forEach(b => { rect(b[0], 636.5, 14.5, 15.5, '#fff', '#909090'); tx(b[0] + 7.2, 644.5, b[1], '12px ' + F, '#000', 'center'); });

// buttons
const buttons = [[2, 30, '指标'], [31, 61, '模板'], [62, 93, '全部'], [94, 126, 'MACD'], [127, 186, 'MACD 变色'], [187, 267, 'MACD变色源码'],
  [268, 295, 'VOL'], [296, 361, 'VOL 无均线'], [362, 388, 'OBV'], [389, 414, 'KDJ'], [415, 445, 'BOLL'], [446, 471, 'VPT'], [472, 497, 'MA2']];
const BF = '"DejaVu Sans Mono","Noto Sans CJK SC",monospace';
buttons.forEach((b, i) => {
  rect(b[0] + 0.5, 636.5, b[1] - b[0], 15.5, i === 0 ? '#c0c0c0' : '#ffffff', '#a0a0a0');
  const cjkOnly = /^[\u4e00-\u9fff]+$/.test(b[2]);
  tx((b[0] + b[1]) / 2 + 0.5, 644.5, b[2], cjkOnly ? '13px ' + F : 'bold 11px ' + BF, i === 7 ? '#ff0000' : '#000', 'center');
});
rect(2.5, 653.5, 43, 15.5, '#fff', '#a0a0a0');
tx(24, 661.5, '扩展∧', '13px ' + F, '#000', 'center');
rect(46.5, 653.5, 54, 15.5, '#fff', '#a0a0a0');
tx(73.5, 661.5, '关联报价', '13px ' + F, '#000', 'center');

// status bar
const SB = 682;
const status = [[3, '上证', 0], [26, '3243.09', 1], [83, '72.64', 1], [121, '2.29%', 1], [170, '4130亿', 0], [216, '沪深', 0],
  [240, '3399.30', 1], [296, '65.28', 1], [335, '1.96%', 1], [385, '2588亿', 0], [431, '创业', 0], [455, '2071.72', 1],
  [508, '70.56', 1], [548, '3.53%', 1], [600, '1089亿', 0], [650, '总成交', 0], [703, '8449亿', 0], [759, '上海行情主站', 0]];
status.forEach(s => tx(s[0], SB, s[1], s[2] ? 'bold 14px ' + F : '13px ' + F, s[2] ? '#ff0000' : '#000'));
ln(646.5, 673, 646.5, 691, '#a0a0a0');
ln(754.5, 673, 754.5, 691, '#a0a0a0');
// input-method badge
rect(1227, 672, 103, 19, '#187a18', '#4caf50');
tx(1233, SB, '¥', 'bold 11px ' + F, '#ffffff');
tx(1242, SB, '五笔拼音', '13px ' + F, '#ffffff');
tx(1302, SB, '☽ °,', '12px "DejaVu Sans"', '#ffffff');
tx(1340, SB, '⇞ !', '12px "DejaVu Sans"', '#909090');
// watermark
add({type: 'text', x: 1305, y: 663, scaleX: 0.56, style: {text: '178448.COM', font: 'bold 25px "Liberation Sans"', fill: '#e4e4e4',
  stroke: '#c4c4c4', lineWidth: 1, align: 'center', verticalAlign: 'middle', textAlign: 'center', textVerticalAlign: 'middle'}, opacity: 0.85});

chart.setOption({graphic: {elements: G}});
</script></body></html>
